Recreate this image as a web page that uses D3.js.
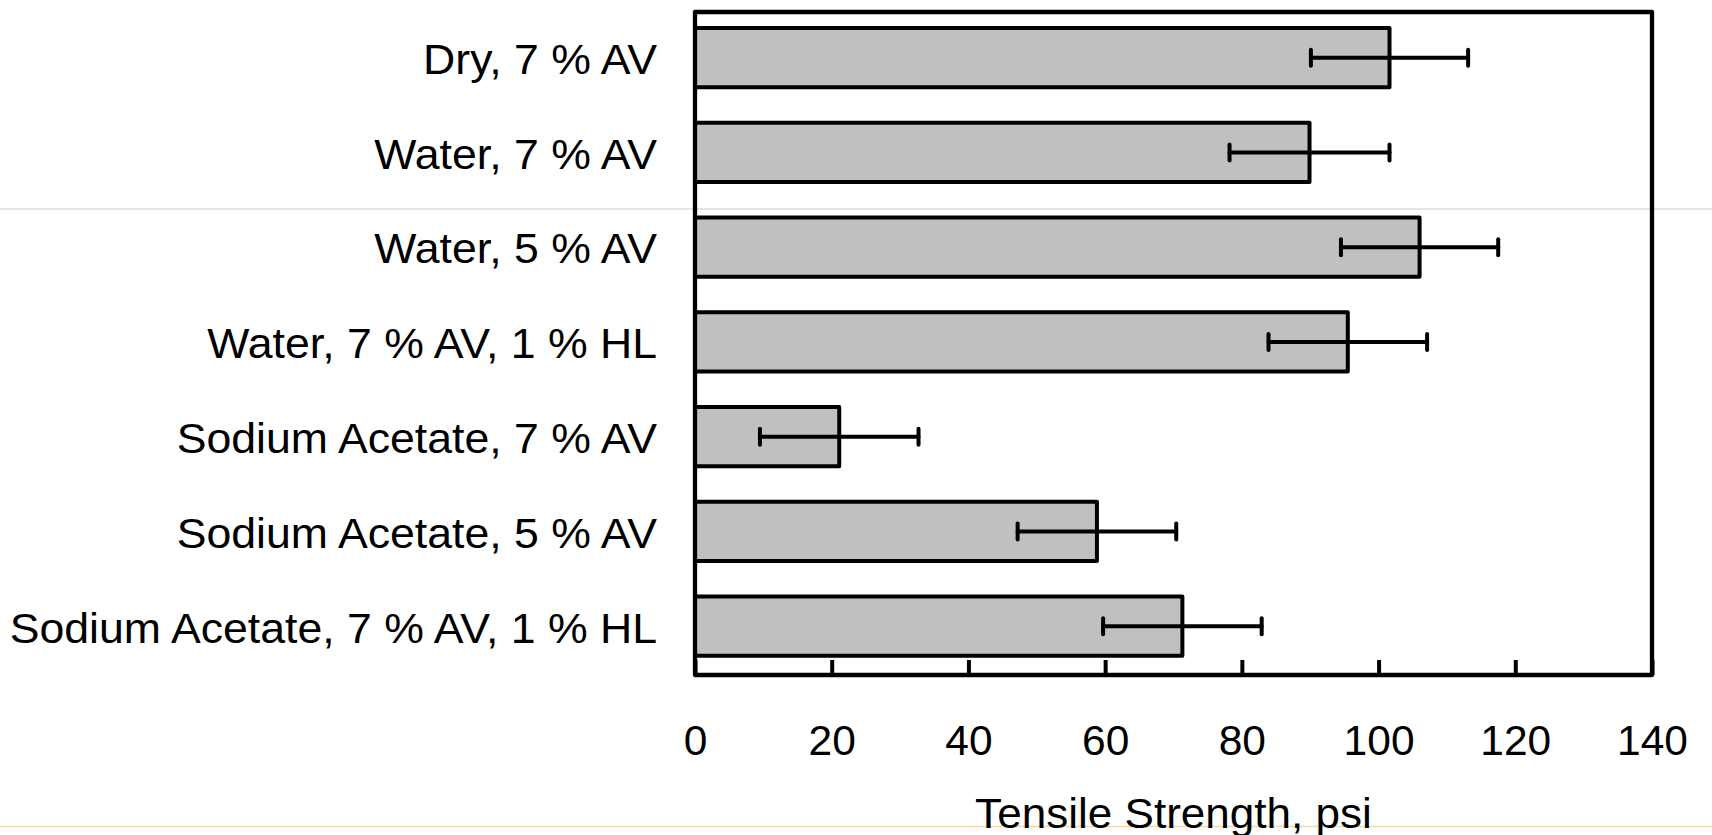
<!DOCTYPE html>
<html>
<head>
<meta charset="utf-8">
<script src="https://cdn.jsdelivr.net/npm/d3@7"></script>
<style>
  html, body { margin: 0; padding: 0; background: #fff; overflow: hidden; }
  svg { display: block; }
  text { font-family: "Liberation Sans", Arial, sans-serif; fill: #000; }
</style>
</head>
<body>
<svg id="chart" width="1712" height="835"></svg>
<script>
// ---- data ----
const categories = [
  "Dry, 7 % AV",
  "Water, 7 % AV",
  "Water, 5 % AV",
  "Water, 7 % AV, 1 % HL",
  "Sodium Acetate, 7 % AV",
  "Sodium Acetate, 5 % AV",
  "Sodium Acetate, 7 % AV, 1 % HL"
];
const tensileStrength = [101.6, 89.9, 106.0, 95.5, 21.1, 58.8, 71.3];
const errorValues = [11.5, 11.7, 11.5, 11.6, 11.6, 11.6, 11.6];
const xTicks = [0, 20, 40, 60, 80, 100, 120, 140];
const xAxisTitle = "Tensile Strength, psi";

// ---- layout ----
const W = 1712, H = 835;
const plot = { left: 695, right: 1652, top: 12, bottom: 675 };
const fontSize = 42.5;

const svg = d3.select("#chart");

// decorative slide line
svg.append("line")
  .attr("x1", 0).attr("x2", W).attr("y1", 209).attr("y2", 209)
  .attr("stroke", "#dcdcdc").attr("stroke-width", 1.5);

const x = d3.scaleLinear().domain([0, 140]).range([plot.left, plot.right]);
const y = d3.scaleBand().domain(categories).range([10.3, 673.6])
  .paddingInner(0.375).paddingOuter(0.1875);

const data = categories.map((c, i) => ({ c, v: tensileStrength[i], e: errorValues[i] }));

// bars
svg.append("g").selectAll("rect").data(data).join("rect")
  .attr("x", x(0))
  .attr("y", d => y(d.c))
  .attr("width", d => x(d.v) - x(0))
  .attr("height", y.bandwidth())
  .attr("fill", "#c0c0c0")
  .attr("stroke", "#000")
  .attr("stroke-width", 4)
  .attr("stroke-linejoin", "round");

// error bars
const eb = svg.append("g").attr("stroke", "#000").attr("stroke-width", 4).attr("stroke-linecap", "round");
data.forEach(d => {
  const cy = y(d.c) + y.bandwidth() / 2;
  eb.append("line").attr("x1", x(d.v - d.e)).attr("x2", x(d.v + d.e)).attr("y1", cy).attr("y2", cy);
  [d.v - d.e, d.v + d.e].forEach(v => {
    eb.append("line").attr("x1", x(v)).attr("x2", x(v)).attr("y1", cy - 8).attr("y2", cy + 8);
  });
});

// frame
svg.append("rect")
  .attr("x", plot.left).attr("y", plot.top)
  .attr("width", plot.right - plot.left).attr("height", plot.bottom - plot.top)
  .attr("fill", "none").attr("stroke", "#000").attr("stroke-width", 4.3)
  .attr("stroke-linejoin", "round");

// x axis (ticks inside, labels below)
const xAxis = d3.axisBottom(x).tickValues(xTicks).tickSize(-15).tickPadding(0).tickFormat(d3.format("d"));
const gx = svg.append("g").attr("transform", `translate(0,${plot.bottom})`).call(xAxis);
gx.select(".domain").remove();
gx.selectAll(".tick line").attr("stroke", "#000").attr("stroke-width", 4);
gx.selectAll(".tick text")
  .attr("y", 755 - plot.bottom).attr("dy", 0)
  .attr("font-size", fontSize)
  .attr("font-family", "'Liberation Sans', Arial, sans-serif")
  .attr("fill", "#000");

// y axis category labels
const yAxis = d3.axisLeft(y).tickSize(0).tickPadding(0);
const gy = svg.append("g").attr("transform", `translate(${plot.left},0)`).call(yAxis);
gy.select(".domain").remove();
gy.selectAll(".tick text")
  .attr("x", 0).attr("y", 0).attr("dy", 0)
  .attr("transform", `translate(${657 - plot.left},16.3) scale(1.05,1)`)
  .attr("text-anchor", "end")
  .attr("font-size", fontSize)
  .attr("font-family", "'Liberation Sans', Arial, sans-serif")
  .attr("fill", "#000");

// decorative orange line at bottom
svg.append("line")
  .attr("x1", 0).attr("x2", W).attr("y1", 826.5).attr("y2", 826.5)
  .attr("stroke", "#fcd5a0").attr("stroke-width", 1.5);

// x axis title
svg.append("text")
  .attr("transform", `translate(${(plot.left + plot.right) / 2},827.5) scale(1.037,1)`)
  .attr("text-anchor", "middle")
  .attr("font-size", fontSize)
  .text(xAxisTitle);
</script>
</body>
</html>
